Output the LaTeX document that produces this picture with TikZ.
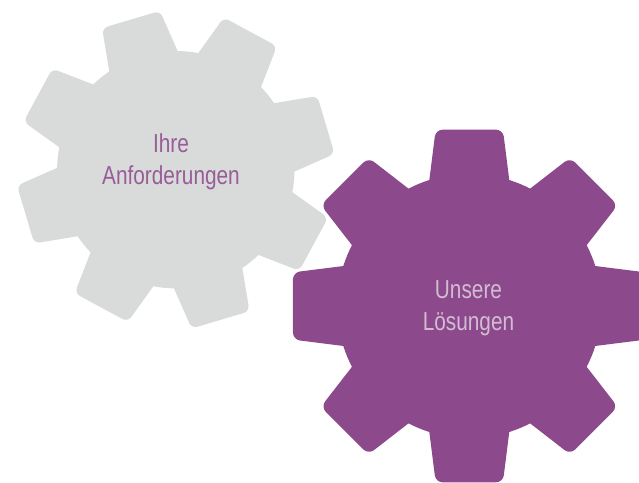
\documentclass[tikz,border=0pt]{standalone}
\usepackage{fontspec}
\setmainfont[FakeStretch=0.80]{Liberation Sans}
\definecolor{gearpurple}{HTML}{8C4A8C}
\definecolor{geargray}{HTML}{D9DBDA}
\definecolor{labelpurple}{HTML}{985C98}
\definecolor{labellight}{HTML}{D3BCD3}
\tikzset{
  x=1pt,y=1pt,
  gearlabel/.style={align=center,inner sep=0pt,font=\fontsize{26}{31.5}\selectfont},
}
% #1 centre, #2 colour, #3 phase, #4 root r, #5 base half angle, #6 tip r, #7 tip half angle, #8 rounding
\newcommand{\geardraw}[8]{%
  \begin{scope}[shift={#1}]
  \fill[#2] (#3+#5:#4pt)
    \foreach \k in {0,...,7}{
      [rounded corners=#8pt] -- (#3-45*\k+#7:#6pt) -- (#3-45*\k-#7:#6pt) [sharp corners] -- (#3-45*\k-#5:#4pt)
      arc[start angle=#3-45*\k-#5,end angle=#3-45*\k-45+#5,radius=#4pt]
    } -- cycle;
  \end{scope}}
\begin{document}
\begin{tikzpicture}
\useasboundingbox (0,0) rectangle (639,482);
\clip (0,0) rectangle (639,482);
\geardraw{(175.8,312.3)}{geargray}{106.6}{118.7}{17.5}{159.6}{10.9}{6}
\geardraw{(469.3,176)}{gearpurple}{90}{132.2}{17.6}{179.5}{10.8}{7}
\node[gearlabel,text=labelpurple] (ihre) at (171,320) {Ihre\\Anforderungen};
\node[gearlabel,text=labellight] (unsere) at (468.5,173.5) {Unsere\\Lösungen};
\end{tikzpicture}
\end{document}
